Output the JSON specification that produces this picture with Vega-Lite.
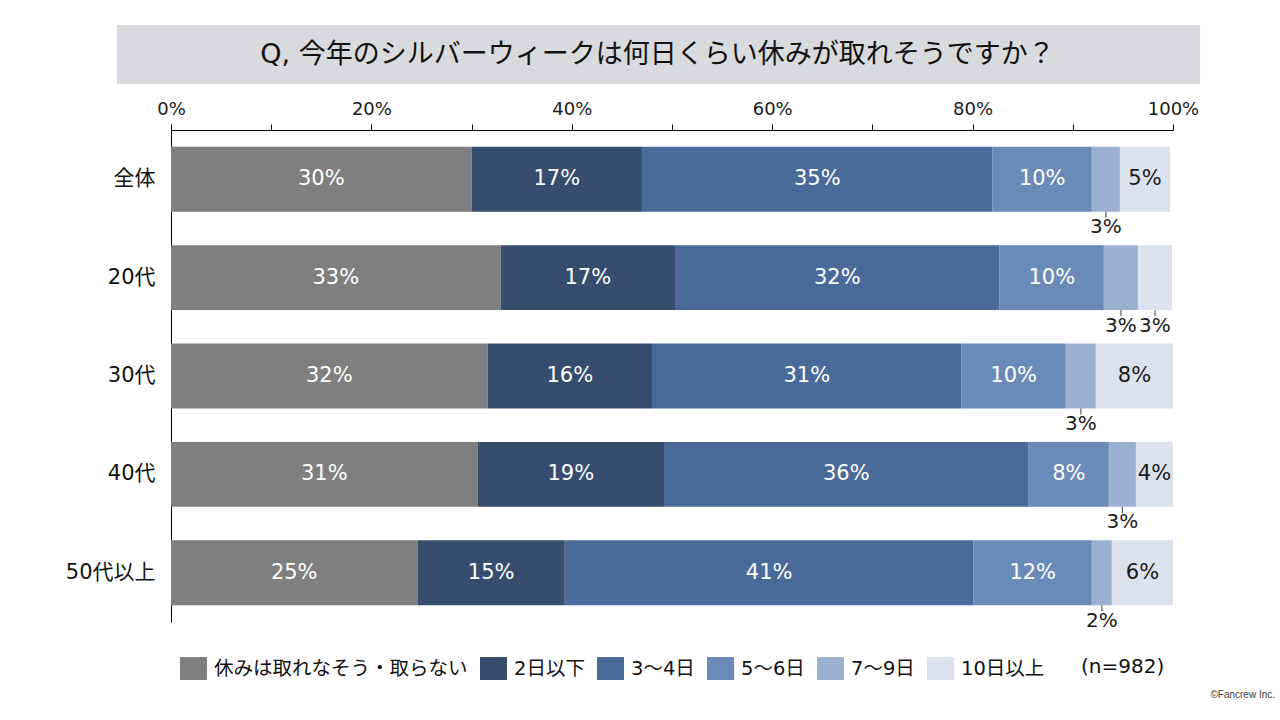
{
  "$schema": "https://vega.github.io/schema/vega-lite/v6.json",
  "padding": {"left": 65, "top": 25, "right": 0, "bottom": 0},
  "background": "#ffffff",
  "bounds": "flush",
  "spacing": 46,
  "config": {"view": {"stroke": null}, "font": "DejaVu Sans, Noto Sans CJK JP"},
  "title": {"text": "©Fancrew Inc.", "orient": "bottom", "anchor": "end", "frame": "bounds", "dx": 75, "offset": 10, "fontSize": 10, "fontWeight": "normal", "color": "#404040", "font": "Liberation Sans, DejaVu Sans"},
  "resolve": {"scale": {"x": "independent", "color": "independent"}, "legend": {"color": "independent"}},
  "datasets": {
    "rows": [
      {"cat": "全体", "ans": "休みは取れなそう・取らない", "o": 1, "v": 0.300},
      {"cat": "全体", "ans": "2日以下", "o": 2, "v": 0.170},
      {"cat": "全体", "ans": "3〜4日", "o": 3, "v": 0.350},
      {"cat": "全体", "ans": "5〜6日", "o": 4, "v": 0.099},
      {"cat": "全体", "ans": "7〜9日", "o": 5, "v": 0.028},
      {"cat": "全体", "ans": "10日以上", "o": 6, "v": 0.050},
      {"cat": "20代", "ans": "休みは取れなそう・取らない", "o": 1, "v": 0.329},
      {"cat": "20代", "ans": "2日以下", "o": 2, "v": 0.174},
      {"cat": "20代", "ans": "3〜4日", "o": 3, "v": 0.324},
      {"cat": "20代", "ans": "5〜6日", "o": 4, "v": 0.104},
      {"cat": "20代", "ans": "7〜9日", "o": 5, "v": 0.034},
      {"cat": "20代", "ans": "10日以上", "o": 6, "v": 0.034},
      {"cat": "30代", "ans": "休みは取れなそう・取らない", "o": 1, "v": 0.316},
      {"cat": "30代", "ans": "2日以下", "o": 2, "v": 0.164},
      {"cat": "30代", "ans": "3〜4日", "o": 3, "v": 0.309},
      {"cat": "30代", "ans": "5〜6日", "o": 4, "v": 0.104},
      {"cat": "30代", "ans": "7〜9日", "o": 5, "v": 0.030},
      {"cat": "30代", "ans": "10日以上", "o": 6, "v": 0.077},
      {"cat": "40代", "ans": "休みは取れなそう・取らない", "o": 1, "v": 0.306},
      {"cat": "40代", "ans": "2日以下", "o": 2, "v": 0.186},
      {"cat": "40代", "ans": "3〜4日", "o": 3, "v": 0.364},
      {"cat": "40代", "ans": "5〜6日", "o": 4, "v": 0.080},
      {"cat": "40代", "ans": "7〜9日", "o": 5, "v": 0.027},
      {"cat": "40代", "ans": "10日以上", "o": 6, "v": 0.037},
      {"cat": "50代以上", "ans": "休みは取れなそう・取らない", "o": 1, "v": 0.246},
      {"cat": "50代以上", "ans": "2日以下", "o": 2, "v": 0.147},
      {"cat": "50代以上", "ans": "3〜4日", "o": 3, "v": 0.408},
      {"cat": "50代以上", "ans": "5〜6日", "o": 4, "v": 0.118},
      {"cat": "50代以上", "ans": "7〜9日", "o": 5, "v": 0.020},
      {"cat": "50代以上", "ans": "10日以上", "o": 6, "v": 0.061}
    ]
  },
  "vconcat": [
    {
      "width": 1002,
      "height": 59,
      "data": {"values": [{"q": "Q, 今年のシルバーウィークは何日くらい休みが取れそうですか？"}]},
      "layer": [
        {
          "mark": {"type": "rect", "color": "#d9dadd"},
          "encoding": {
            "x": {"datum": -0.054, "type": "quantitative", "scale": {"domain": [0, 1], "nice": false, "zero": false}, "axis": null},
            "x2": {"datum": 1.027}
          }
        },
        {
          "mark": {"type": "text", "fontSize": 27, "color": "#111111", "baseline": "middle", "align": "center"},
          "encoding": {
            "x": {"datum": 0.4855, "type": "quantitative"},
            "text": {"field": "q"}
          }
        }
      ]
    },
    {
      "width": 1002,
      "height": 492,
      "data": {"name": "rows"},
      "encoding": {
        "y": {
          "field": "cat", "type": "nominal",
          "sort": ["全体", "20代", "30代", "40代", "50代以上"],
          "scale": {"paddingInner": 0.34, "paddingOuter": 0.17},
          "axis": {"title": null, "ticks": false, "tickSize": 0, "labelPadding": 16, "labelFontSize": 21, "labelColor": "#111111", "domainColor": "#000000", "domainWidth": 1}
        }
      },
      "layer": [
        {
          "mark": {"type": "bar"},
          "encoding": {
            "x": {
              "field": "v", "type": "quantitative", "stack": "zero",
              "scale": {"domain": [0, 1], "nice": false},
              "axis": {
                "orient": "top", "title": null, "grid": false,
                "values": [0, 0.1, 0.2, 0.3, 0.4, 0.5, 0.6, 0.7, 0.8, 0.9, 1],
                "format": ".0%",
                "labelExpr": "round(datum.value*10) % 2 == 0 ? datum.label : ''",
                "labelOverlap": false, "labelFlush": false,
                "domainColor": "#000000", "tickColor": "#000000", "tickSize": 6,
                "labelFontSize": 18, "labelColor": "#1a1a1a", "labelPadding": 6
              }
            },
            "color": {
              "field": "ans", "type": "nominal",
              "scale": {
                "domain": ["休みは取れなそう・取らない", "2日以下", "3〜4日", "5〜6日", "7〜9日", "10日以上"],
                "range": ["#7f7f7f", "#364d6e", "#4a6a9a", "#6a8bb8", "#9cb0d0", "#dce2ed"]
              },
              "legend": {
                "title": "(n=982)", "titleOrient": "right", "titleFontSize": 20, "titleFontWeight": "normal", "titleColor": "#111111", "titlePadding": 37, "titleBaseline": "middle", "titleAnchor": "middle",
                "orient": "none", "legendX": 9, "legendY": 525, "direction": "horizontal",
                "symbolType": "M-1,-0.85H1V0.85H-1Z", "symbolSize": 729, "symbolStrokeWidth": 0,
                "labelFontSize": 19.5, "labelOffset": 7, "columnPadding": 12, "labelColor": "#111111", "padding": 0, "labelLimit": 400
              }
            },
            "order": {"field": "o"}
          }
        },
        {
          "mark": {"type": "text", "fontSize": 21, "baseline": "middle", "align": "center"},
          "encoding": {
            "x": {"field": "v", "type": "quantitative", "stack": "zero", "bandPosition": 0.5},
            "detail": {"field": "ans"},
            "order": {"field": "o"},
            "text": {"condition": {"test": "datum.v < 0.036", "value": ""}, "field": "v", "type": "quantitative", "format": ".0%"},
            "color": {"condition": {"test": "datum.ans === '10日以上'", "value": "#1a1a1a"}, "value": "#ffffff"}
          }
        },
        {
          "mark": {"type": "text", "fontSize": 20, "baseline": "middle", "align": "center", "yOffset": 48, "color": "#1a1a1a"},
          "encoding": {
            "x": {"field": "v", "type": "quantitative", "stack": "zero", "bandPosition": 0.5},
            "detail": {"field": "ans"},
            "order": {"field": "o"},
            "text": {"condition": {"test": "datum.v >= 0.036", "value": ""}, "field": "v", "type": "quantitative", "format": ".0%"}
          }
        },
        {
          "mark": {"type": "tick", "yOffset": 35.5, "size": 6, "thickness": 1, "color": "#404040"},
          "encoding": {
            "x": {"field": "v", "type": "quantitative", "stack": "zero", "bandPosition": 0.5},
            "detail": {"field": "ans"},
            "order": {"field": "o"},
            "opacity": {"condition": {"test": "datum.v < 0.036", "value": 1}, "value": 0}
          }
        }
      ]
    }
  ]
}
